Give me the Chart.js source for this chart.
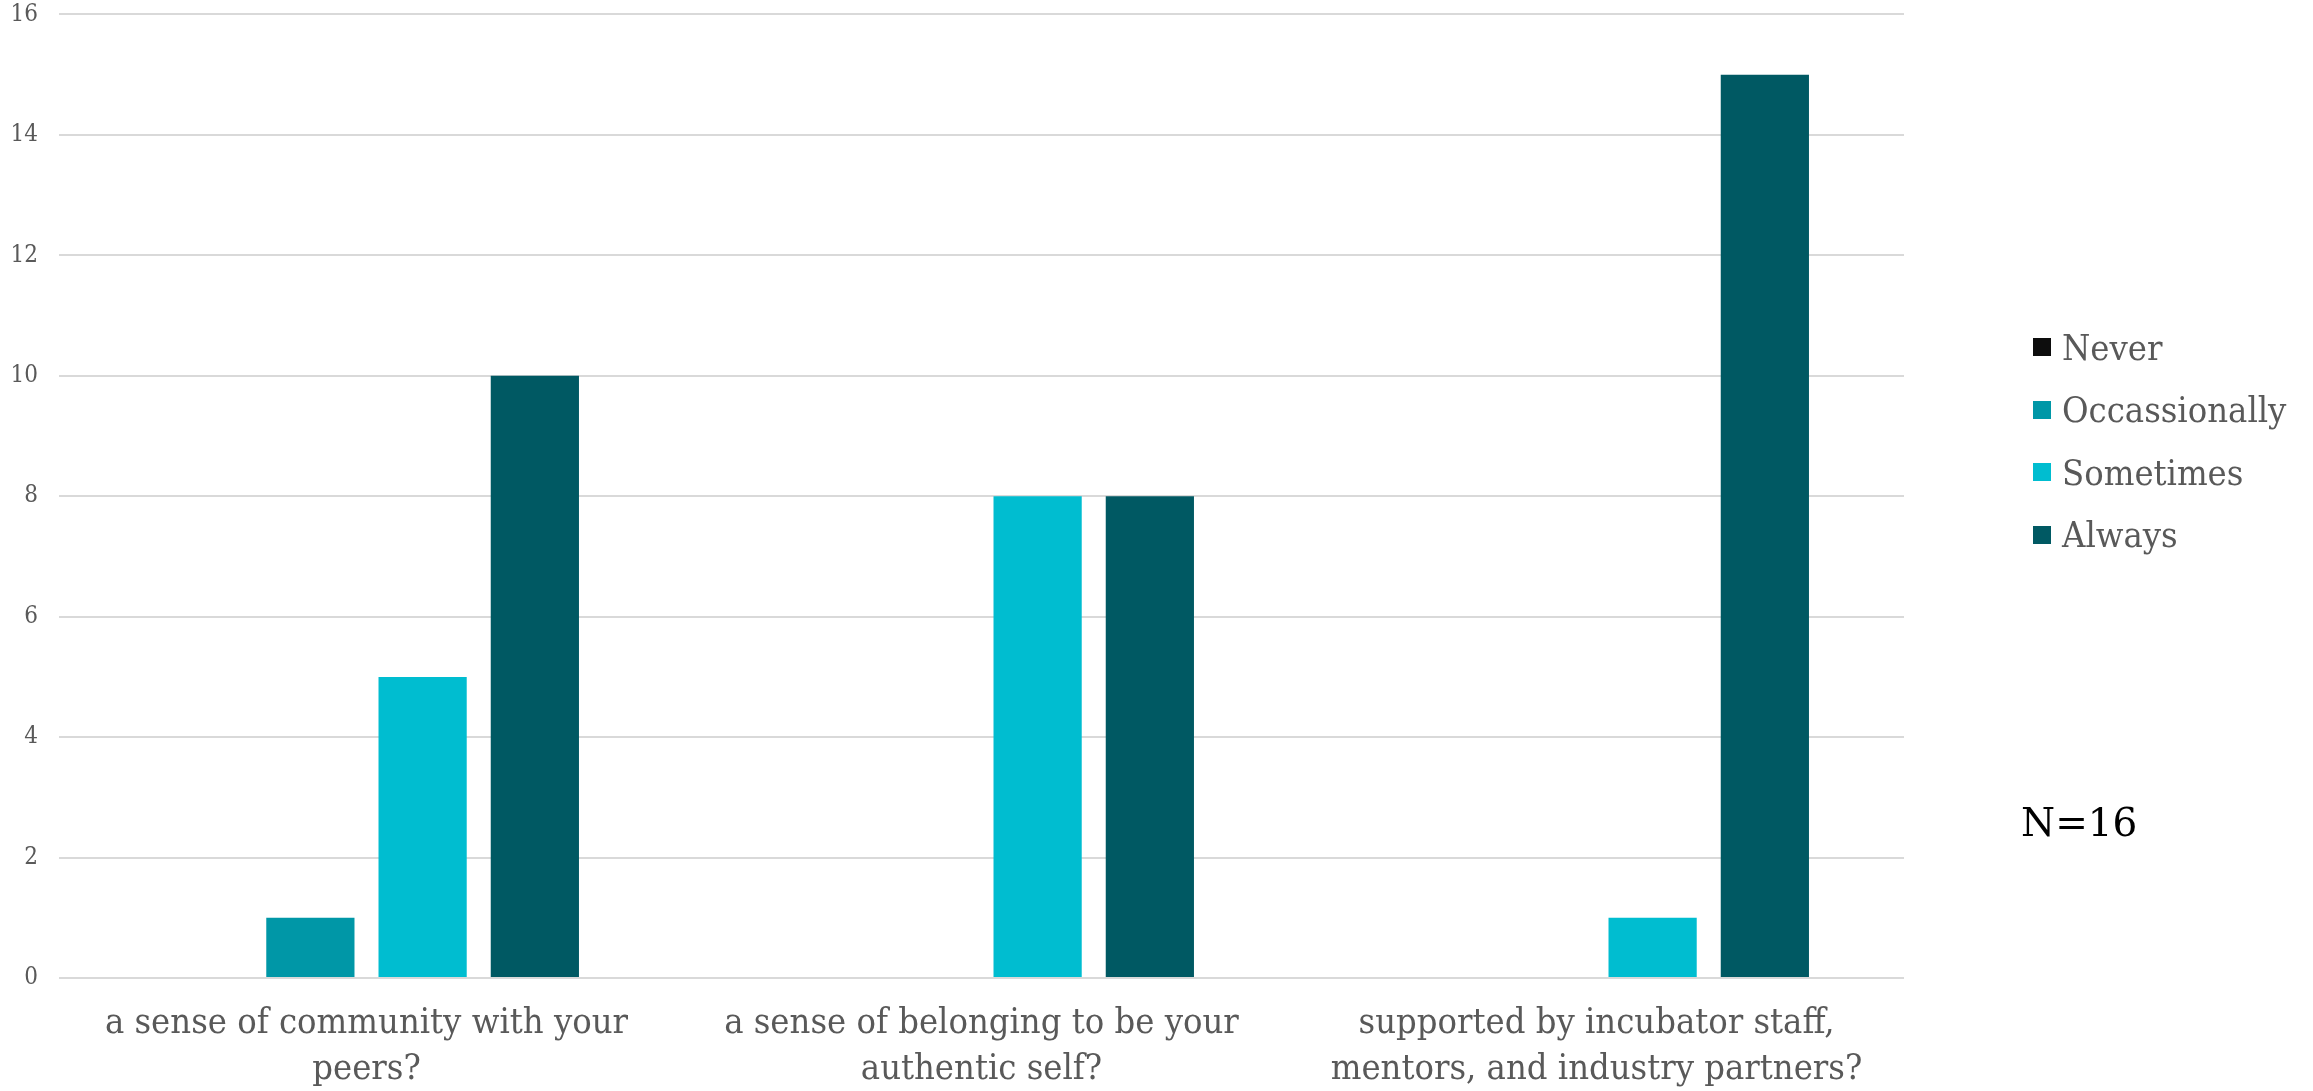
<!DOCTYPE html>
<html>
<head>
<meta charset="utf-8">
<title>Survey responses</title>
<script src="https://cdn.jsdelivr.net/npm/chart.js@4.4.0/dist/chart.umd.min.js"></script>
<style>
  html, body { margin: 0; padding: 0; background: #fff; }
  #wrap { position: relative; width: 2313px; height: 1091px; }
  #chart { position: absolute; left: 0; top: 0; }
  #legend {
    position: absolute; left: 2033px; top: 316px;
    font-family: "DejaVu Serif Condensed", "DejaVu Serif", serif;
    font-size: 36px; color: #595959;
  }
  .legend-item { display: flex; align-items: center; height: 62.5px; white-space: nowrap; }
  .legend-box { width: 18px; height: 18px; margin-right: 11px; flex: none; }
  #note {
    position: absolute; left: 2021px; top: 803px;
    font-family: "DejaVu Serif", serif; font-size: 39px; line-height: 40px; color: #000;
  }
</style>
</head>
<body>
<div id="wrap">
  <canvas id="chart" width="2313" height="1091"></canvas>
  <div id="legend"></div>
  <div id="note">N=16</div>
</div>
<script>
// Questions (x categories), split onto two lines each
const questions = [
    ['a sense of community with your', 'peers?'],
    ['a sense of belonging to be your', 'authentic self?'],
    ['supported by incubator staff,', 'mentors, and industry partners?']
];

// Response counts per answer, one value per question
const never = [0, 0, 0];
const occasionally = [1, 0, 0];
const sometimes = [5, 8, 1];
const always = [10, 8, 15];

const seriesNames = ['Never', 'Occassionally', 'Sometimes', 'Always'];
const seriesColors = ['#0d0d0d', '#0097a7', '#00bdd0', '#005963'];

const yTicks = [0, 2, 4, 6, 8, 10, 12, 14, 16];

const labelFont = '"DejaVu Serif Condensed", "DejaVu Serif", serif';
const textColor = '#595959';

document.addEventListener('DOMContentLoaded', function() {
    drawChart();
    buildLegend();
});

function drawChart() {
    const ctx = document.getElementById('chart').getContext('2d');
    const seriesData = [never, occasionally, sometimes, always];

    new Chart(ctx, {
        type: 'bar',
        data: {
            labels: questions,
            datasets: seriesData.map((values, i) => ({
                label: seriesNames[i],
                data: values,
                backgroundColor: seriesColors[i],
                borderWidth: 0,
                categoryPercentage: 0.73,
                barPercentage: 0.786
            }))
        },
        options: {
            responsive: false,
            animation: false,
            layout: { padding: { left: 0, right: 409, top: 0, bottom: 0 } },
            plugins: {
                legend: { display: false },
                tooltip: { enabled: false }
            },
            scales: {
                x: {
                    grid: { display: false, drawTicks: false },
                    border: { display: false },
                    ticks: {
                        color: textColor,
                        font: { family: labelFont, size: 36, lineHeight: 1.28 },
                        padding: 23,
                        maxRotation: 0,
                        autoSkip: false
                    },
                    afterFit: function(scale) { scale.height = 113; }
                },
                y: {
                    min: yTicks[0],
                    max: yTicks[yTicks.length - 1],
                    // invisible tick marks keep the labels away from the grid
                    // without the extra top padding that ticks.padding adds
                    grid: {
                        color: '#d9d9d9', lineWidth: 2,
                        drawTicks: true, tickLength: 21, tickColor: 'rgba(0,0,0,0)'
                    },
                    border: { display: false },
                    ticks: {
                        stepSize: yTicks[1] - yTicks[0],
                        color: textColor,
                        font: { family: labelFont, size: 24 },
                        padding: 0
                    },
                    afterFit: function(scale) { scale.width = 59; }
                }
            }
        }
    });
}

function buildLegend() {
    const container = document.getElementById('legend');
    seriesNames.forEach((name, i) => {
        const item = document.createElement('div');
        item.className = 'legend-item';
        item.innerHTML = `<span class="legend-box" style="background:${seriesColors[i]}"></span><span>${name}</span>`;
        container.appendChild(item);
    });
}
</script>
</body>
</html>
